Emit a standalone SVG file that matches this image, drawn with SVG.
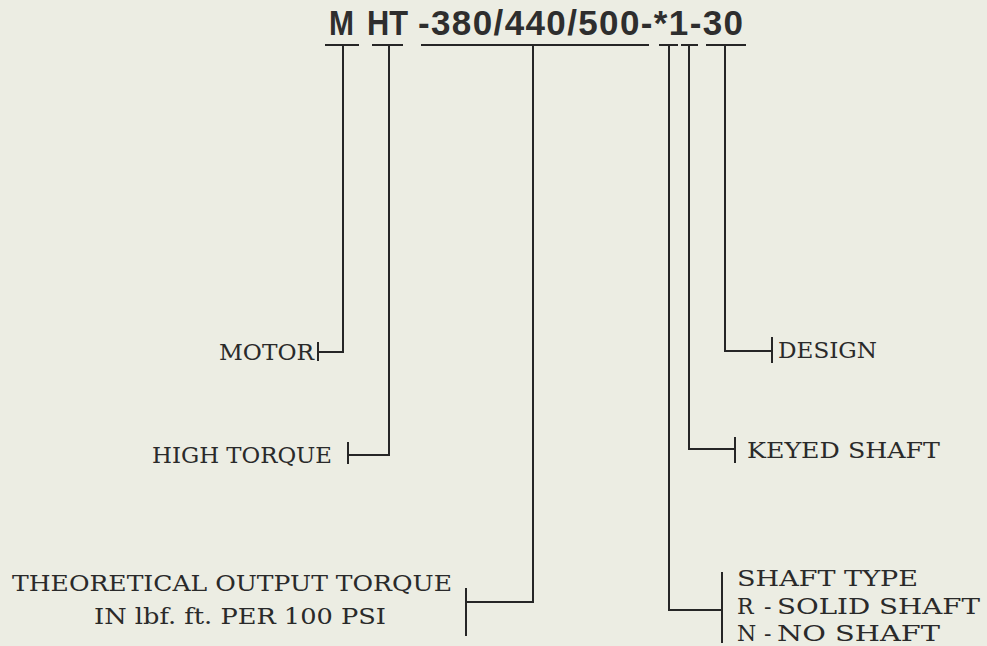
<svg xmlns="http://www.w3.org/2000/svg" width="987" height="646" viewBox="0 0 987 646">
<style>
.bg{fill:#ecede3}
.ln{fill:none;stroke:#262626;stroke-width:2;stroke-linecap:square}
.title{font-family:"Liberation Sans",Arial,sans-serif;font-weight:bold;font-size:35px;fill:#2e2e2e}
.lbl{font-family:"DejaVu Serif","Liberation Serif",serif;font-size:22px;fill:#2a2a2a}
</style>
<rect class="bg" x="0" y="0" width="987" height="646"/>
<g id="title">
<text class="title" x="329" y="35" textLength="25" lengthAdjust="spacingAndGlyphs">M</text>
<text class="title" x="367" y="35" textLength="41" lengthAdjust="spacingAndGlyphs">HT</text>
<text class="title" x="418" y="35" textLength="325" lengthAdjust="spacing">-380/440/500-*1-30</text>
</g>
<g id="connectors">
<path class="ln" d="M326 45H358M343 45V352H318M318 343V360"/>
<path class="ln" d="M373 45H402M389 45V455H348M348 443V463"/>
<path class="ln" d="M422 45H648M533 45V602H466M466 589V635"/>
<path class="ln" d="M660 45H677M669 45V610H722M722 573V642"/>
<path class="ln" d="M682 45H697M689 45V449H735M735 438V462"/>
<path class="ln" d="M707 45H745M725 45V351H772M772 338V362"/>
</g>
<g id="motor"><text class="lbl" x="219" y="360" textLength="95" lengthAdjust="spacingAndGlyphs">MOTOR</text></g>
<g id="high-torque"><text class="lbl" x="152" y="463" textLength="180" lengthAdjust="spacingAndGlyphs">HIGH TORQUE</text></g>
<g id="output-torque">
<text class="lbl" x="12" y="591" textLength="440" lengthAdjust="spacingAndGlyphs">THEORETICAL OUTPUT TORQUE</text>
<text class="lbl" x="94" y="624" textLength="292" lengthAdjust="spacingAndGlyphs">IN lbf. ft. PER 100 PSI</text>
</g>
<g id="design"><text class="lbl" x="778" y="358" textLength="99" lengthAdjust="spacingAndGlyphs">DESIGN</text></g>
<g id="keyed-shaft"><text class="lbl" x="747" y="458" textLength="193" lengthAdjust="spacingAndGlyphs">KEYED SHAFT</text></g>
<g id="shaft-type">
<text class="lbl" x="737" y="586" textLength="181" lengthAdjust="spacingAndGlyphs">SHAFT TYPE</text>
<text class="lbl" x="737" y="614">R</text>
<text class="lbl" x="764" y="614">-</text>
<text class="lbl" x="777" y="614" textLength="203" lengthAdjust="spacingAndGlyphs">SOLID SHAFT</text>
<text class="lbl" x="737" y="641">N</text>
<text class="lbl" x="764" y="641">-</text>
<text class="lbl" x="777" y="641" textLength="163" lengthAdjust="spacingAndGlyphs">NO SHAFT</text>
</g>
</svg>
